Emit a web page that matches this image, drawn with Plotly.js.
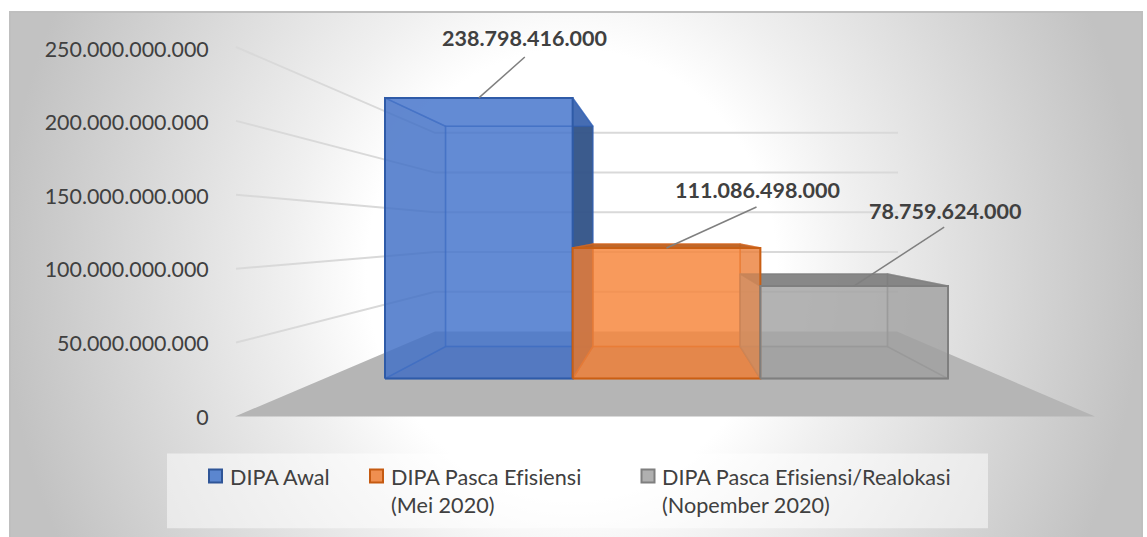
<!DOCTYPE html>
<html><head><meta charset="utf-8">
<script src="https://cdn.plot.ly/plotly-3.0.1.min.js"></script>
<style>
html,body{margin:0;padding:0;background:#fff;overflow:hidden}
#bg{position:absolute;left:9px;top:11px;width:1134px;height:526px;box-sizing:border-box;
border:2px solid #bfbfbf;border-bottom:none;
background:radial-gradient(ellipse 570px 620px at 561px 259px,#fff 36%,#f0f0f0 50%,#d8d8d8 76%,#c2c2c2 100%);}
#chart{position:absolute;left:0;top:0;width:1147px;height:537px}
svg text{font-variant-ligatures:none;font-feature-settings:"liga" 0}
</style></head><body><div id="bg"></div><div id="chart"></div>
<script>
// ---- data ----
const categories = ["DIPA Awal","DIPA Pasca Efisiensi<br>(Mei 2020)","DIPA Pasca Efisiensi/Realokasi<br>(Nopember 2020)"];
const values = [238798416000,111086498000,78759624000];
const valueLabels = ["238.798.416.000","111.086.498.000","78.759.624.000"];
const tickVals = [0,50e9,100e9,150e9,200e9,250e9];
const tickText = ["0","50.000.000.000","100.000.000.000","150.000.000.000","200.000.000.000","250.000.000.000"];

// ---- styles ----
const FONT = "Lato, 'Open Sans', sans-serif";
const TXT = "#404040";
const faceStyles = [
 {back:"rgba(70,117,204,.6)", front:"rgba(70,117,204,.6)", side:"rgba(62,106,186,.6)", far:"rgba(50,82,132,.9)", top:"rgba(70,117,204,.6)", bottom:"rgba(55,95,175,.6)", edge:"#2f5ba8", inner:"rgba(47,95,180,.55)", swatch:"#5b86cf", lineS:"#2f5597"},
 {back:"rgba(247,135,62,.6)", front:"rgba(247,135,62,.6)", side:"rgba(200,100,40,.6)", far:"rgba(200,100,40,.5)", top:"rgba(185,95,35,.92)", bottom:"rgba(215,105,40,.6)", edge:"#c95f14", inner:"rgba(215,105,35,.6)", swatch:"#ef8f50", lineS:"#c55a11"},
 {back:"rgba(165,165,165,.6)", front:"rgba(165,165,165,.6)", side:"rgba(150,150,150,.55)", far:"rgba(150,150,150,.55)", top:"rgba(125,125,125,.85)", bottom:"rgba(140,140,140,.5)", edge:"#7f7f7f", inner:"rgba(130,130,130,.6)", swatch:"#b0b0b0", lineS:"#7f7f7f"}
];

// ---- frame (axis x unit = 1 pixel, y axis in value units) ----
const M = {l:235, r:52, t:15, b:119.5};
const PPV = 368/250e9;
const toV = py => (417.5-py)/PPV;
const toPX = px => (px-M.l)/(1147-M.l-M.r);
const toPY = py => 1-(py-M.t)/(537-M.t-M.b);

// perspective projection of a bar corner
const CX=666.5, CY=230, S=0.785, BASE=379, KF=281/238.8e9, X0=385, W=187.67;
const front=(col,v)=>[X0+col*W, BASE-v*KF];
const back=(col,v)=>{const p=front(col,v);return [CX+(p[0]-CX)*S, CY+(p[1]-CY)*S];};

const traces=[];
function poly(name,pts,fill,line,width){
  traces.push({type:"scatter",mode:"lines",name,showlegend:false,hoverinfo:"skip",
    x:pts.map(p=>p[0]),y:pts.map(p=>toV(p[1])),fill:fill?"toself":"none",fillcolor:fill||undefined,
    line:{color:line||"rgba(0,0,0,0)",width:width==null?1:width}});
}
// wall gridlines
tickVals.filter(v=>v>0).forEach(v=>{
  poly("grid",[[236,417-v*1.48e-9],[435,332-v*0.796e-9],[898,332-v*0.796e-9]],null,"#d9d9d9",2);
});
// floor
poly("floor",[[235,417],[435,332],[897,332],[1095,417],[235,417]],"#b5b5b5",null,0);
// bars
values.forEach((v,i)=>{
  const s=faceStyles[i];
  const fb=front(i,0),ft=front(i,v),fb2=front(i+1,0),ft2=front(i+1,v);
  const bb=back(i,0),bt=back(i,v),bb2=back(i+1,0),bt2=back(i+1,v);
  poly("back",[bb,bt,bt2,bb2,bb],s.back,s.inner,1.5);
  poly("bottom",[fb,bb,bb2,fb2,fb],s.bottom,s.inner,1.5);
  poly("left",[fb,ft,bt,bb,fb],s.side,s.inner,1.5);
  poly("right",[fb2,ft2,bt2,bb2,fb2],s.far,s.inner,1.5);
  poly("top",[ft,bt,bt2,ft2,ft],s.top,s.inner,1.5);
});
values.forEach((v,i)=>{
  const s=faceStyles[i];
  poly(categories[i],[front(i,0),front(i,v),front(i+1,v),front(i+1,0),front(i,0)],s.front,s.edge,2);
});
// leader lines + labels
const leaderOff=[[46,-41],[90,-41],[90,-59]];
const labelPos=[[524.5,38],[757,190],[945.5,211]];
const annotations=[];
values.forEach((v,i)=>{
  const a=front(i+0.5,v);
  traces.push({type:"scatter",mode:"lines",showlegend:false,hoverinfo:"skip",name:"leader",
    x:[a[0],a[0]+leaderOff[i][0]],y:[toV(a[1]),toV(a[1]+leaderOff[i][1])],line:{color:"#7f7f7f",width:1.5}});
  annotations.push({xref:"x",yref:"y",x:labelPos[i][0],y:toV(labelPos[i][1]),text:"<b>"+valueLabels[i]+"</b>",showarrow:false,
    xanchor:"center",yanchor:"middle",font:{family:FONT,size:21.5,color:TXT}});
});
// legend (drawn in page position)
const legendX=[209,370,641.5], legendTextX=[228,389,660];
const shapes=[{type:"rect",xref:"paper",yref:"paper",x0:toPX(167),x1:toPX(988),y0:toPY(454),y1:toPY(529),fillcolor:"rgba(255,255,255,.5)",line:{width:0},layer:"below"}];
categories.forEach((c,i)=>{
  const s=faceStyles[i];
  shapes.push({type:"rect",xref:"paper",yref:"paper",x0:toPX(legendX[i]),x1:toPX(legendX[i]+13),y0:toPY(470),y1:toPY(483),fillcolor:s.swatch,line:{color:s.lineS,width:2}});
  annotations.push({xref:"paper",yref:"paper",x:toPX(legendTextX[i]),y:toPY(463),text:c,showarrow:false,xanchor:"left",yanchor:"top",align:"left",
    font:{family:FONT,size:21.6,color:TXT}});
});

Plotly.newPlot("chart",traces,{
  width:1147,height:537,margin:M,paper_bgcolor:"rgba(0,0,0,0)",plot_bgcolor:"rgba(0,0,0,0)",showlegend:false,
  xaxis:{range:[235,1095],visible:false,fixedrange:true},
  yaxis:{range:[0,toV(M.t)],tickmode:"array",tickvals:tickVals,ticktext:tickText,showgrid:false,zeroline:false,showline:false,
    ticks:"outside",ticklen:21,tickcolor:"rgba(0,0,0,0)",tickfont:{family:FONT,size:21.4,color:TXT},fixedrange:true,automargin:false},
  shapes,annotations
},{displayModeBar:false,staticPlot:true});
</script></body></html>
